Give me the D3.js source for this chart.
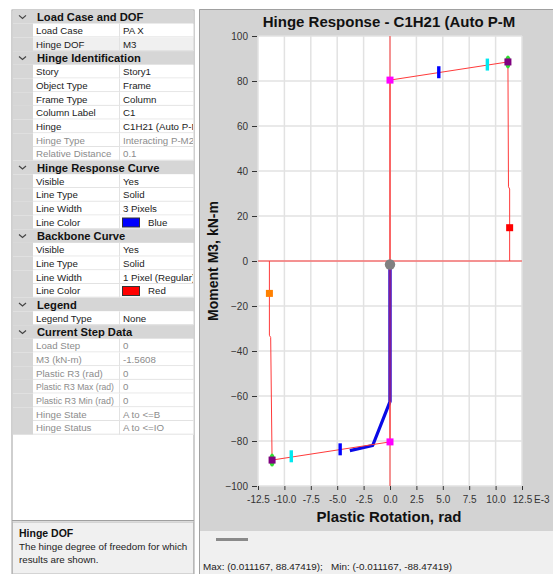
<!DOCTYPE html>
<html>
<head>
<meta charset="utf-8">
<script src="https://cdn.jsdelivr.net/npm/d3@7"></script>
<style>
  html, body { margin: 0; padding: 0; background: #ffffff; }
  svg { display: block; }
</style>
</head>
<body>
<svg id="root" width="553" height="574"></svg>
<script>
// ---------------- DATA ----------------
// Property grid
const gridRowNames = ["Load Case and DOF","Load Case","Hinge DOF","Hinge Identification","Story","Object Type","Frame Type","Column Label","Hinge","Hinge Type","Relative Distance","Hinge Response Curve","Visible","Line Type","Line Width","Line Color","Backbone Curve","Visible","Line Type","Line Width","Line Color","Legend","Legend Type","Current Step Data","Load Step","M3 (kN-m)","Plastic R3 (rad)","Plastic R3 Max (rad)","Plastic R3 Min (rad)","Hinge State","Hinge Status"];
const gridRowValues = [null,"PA X","M3",null,"Story1","Frame","Column","C1","C1H21 (Auto P-M2-M3)","Interacting P-M2-M3","0.1",null,"Yes","Solid","3 Pixels","Blue",null,"Yes","Solid","1 Pixel (Regular)","Red",null,"None",null,"0","-1.5608","0","0","0","A to <=B","A to <=IO"];
const gridRowGreyed = [0,0,0,0,0,0,0,0,0,1,1,0,0,0,0,0,0,0,0,0,0,0,0,0,1,1,1,1,1,1,1];
const gridSwatches = {15: "#0000ff", 20: "#ff0000"};
const descTitle = "Hinge DOF";
const descLines = ["The hinge degree of freedom for which", "results are shown."];

// Chart
const chartTitle = "Hinge Response - C1H21 (Auto P-M";
const xAxisTitle = "Plastic Rotation, rad";
const yAxisTitle = "Moment M3, kN-m";
const xTicks = [-12.5,-10,-7.5,-5,-2.5,0,2.5,5,7.5,10,12.5];
const xTickLabels = ["-12.5","-10.0","-7.5","-5.0","-2.5","0.0","2.5","5.0","7.5","10.0","12.5"];
const xUnitLabel = "E-3";
const yTicks = [-100,-80,-60,-40,-20,0,20,40,60,80,100];

// Backbone curve (rotation E-3 rad, moment kN-m)
const backboneRot = [-11.42,-11.42,-11.30,-11.167,0,0,11.167,11.22,11.33,11.33];
const backboneMom = [0,-33,-34,-88.474,-80.4,80.4,88.474,33,32,0];

// Hinge response curve
const responseRot = [0,0,-1.64,-3.8];
const responseMom = [-1.56,-62.5,-82,-84.3];

// Markers
const pointB_Rot = [0,0];           const pointB_Mom = [80.4,-80.4];
const pointC_Rot = [11.167,-11.167]; const pointC_Mom = [88.474,-88.474];
const ioRot = [4.62,-4.72];          const ioMom = [83.9,-83.7];
const lsRot = [9.22,-9.35];          const lsMom = [87.3,-86.8];
const dRot = [11.33,-11.42];         const dMom = [14.8,-14.4];
const dColors = ["#ff0000","#ff8000"];
const currentRot = [0];              const currentMom = [-1.5608];
const statusText = "Max: (0.011167, 88.47419);   Min: (-0.011167, -88.47419)";

// ---------------- DRAW ----------------
const svg = d3.select("#root");
const sans = "'Liberation Sans', Arial, sans-serif";

// ---- left property grid ----
const gL = 12, gR = 194, gTop = 10, rowH = 13.7, colGut = 33, colVal = 120;
const left = svg.append("g");
left.append("rect").attr("x", gL).attr("y", gTop).attr("width", gR - gL).attr("height", 574 - gTop + 2)
  .attr("fill", "#ffffff").attr("stroke", "#a0a0a0");
svg.append("defs").call(d => {
  d.append("clipPath").attr("id", "clipVal").append("rect").attr("x", colVal).attr("y", 0).attr("width", gR - colVal - 1).attr("height", 574);
});
const rows = left.selectAll("g.row").data(gridRowNames.map((n, i) => ({n, v: gridRowValues[i], gr: gridRowGreyed[i], i})))
  .join("g").attr("class", "row").attr("transform", d => `translate(0,${gTop + d.i * rowH})`);
rows.each(function(d) {
  const g = d3.select(this);
  if (d.v === null) {
    g.append("rect").attr("x", gL + 0.5).attr("y", 0).attr("width", gR - gL - 1).attr("height", rowH).attr("fill", "#d6d6d6");
    g.append("path").attr("d", `M19,${rowH/2 - 1.5} L22.5,${rowH/2 + 1.5} L26,${rowH/2 - 1.5}`).attr("fill", "none").attr("stroke", "#444").attr("stroke-width", 1.2);
    g.append("text").attr("x", 37).attr("y", rowH / 2 + 4).attr("font-family", sans).attr("font-size", 11.2).attr("font-weight", "bold").attr("fill", "#111").text(d.n);
  } else {
    g.append("rect").attr("x", gL + 0.5).attr("y", 0).attr("width", colGut - gL - 0.5).attr("height", rowH).attr("fill", "#d6d6d6");
    g.append("rect").attr("x", colGut).attr("y", 0).attr("width", gR - colGut - 0.5).attr("height", rowH).attr("fill", d.i === 2 ? "#f0f0f0" : "#ffffff");
    g.append("line").attr("x1", colGut).attr("x2", gR).attr("y1", rowH - 0.5).attr("y2", rowH - 0.5).attr("stroke", "#e2e2e2");
    g.append("line").attr("x1", colVal - 0.5).attr("x2", colVal - 0.5).attr("y1", 0).attr("y2", rowH).attr("stroke", "#e2e2e2");
    const fill = d.gr ? "#8c8c8c" : "#222";
    const nt = g.append("text").attr("x", 36).attr("y", rowH / 2 + 3.5).attr("font-family", sans).attr("font-size", 9.7).attr("fill", fill).text(d.n);
    const maxW = 78;
    const w = nt.node().getComputedTextLength();
    if (w > maxW) nt.attr("font-size", 9.7 * maxW / w);
    let vx = 123;
    if (gridSwatches[d.i]) {
      g.append("rect").attr("x", 122.5).attr("y", 2.5).attr("width", 17).attr("height", 9).attr("fill", gridSwatches[d.i]).attr("stroke", "#333");
      vx = 148;
    }
    g.append("text").attr("clip-path", "url(#clipVal)").attr("x", vx).attr("y", rowH / 2 + 3.5).attr("font-family", sans).attr("font-size", 9.7).attr("fill", fill).text(d.v);
  }
});
// description box
const dTop = 522;
left.append("line").attr("x1", gL).attr("x2", gR).attr("y1", dTop - 1.5).attr("y2", dTop - 1.5).attr("stroke", "#a0a0a0");
left.append("rect").attr("x", gL + 0.5).attr("y", dTop).attr("width", gR - gL - 1).attr("height", 574 - dTop).attr("fill", "#f0f0f0").attr("stroke", "#b8b8b8");
left.append("text").attr("x", 19).attr("y", dTop + 14.5).attr("font-family", sans).attr("font-size", 10.5).attr("font-weight", "bold").attr("fill", "#111").text(descTitle);
left.selectAll("text.desc").data(descLines).join("text").attr("class", "desc")
  .attr("x", 19).attr("y", (d, i) => dTop + 28 + i * 13).attr("font-family", sans).attr("font-size", 9.8).attr("fill", "#222").text(d => d);

// ---- chart panel ----
const pL = 199, pTop = 9, pBottom = 531;
svg.append("rect").attr("x", pL).attr("y", pTop).attr("width", 553 - pL + 2).attr("height", pBottom - pTop).attr("fill", "#d3d3d3");
svg.append("rect").attr("x", pL).attr("y", pBottom).attr("width", 553 - pL + 2).attr("height", 574 - pBottom).attr("fill", "#f0f0f0");
svg.append("path").attr("d", `M${pL + 0.5},574 V${pTop + 0.5} H553`).attr("fill", "none").attr("stroke", "#a0a0a0");
svg.append("rect").attr("x", 216).attr("y", 538).attr("width", 32).attr("height", 3).attr("fill", "#8a8a8a");
svg.append("text").attr("x", 203).attr("y", 570).attr("font-family", sans).attr("font-size", 9.9).attr("fill", "#222").style("white-space", "pre").text(statusText);

const x = d3.scaleLinear().domain([-12.5, 12.5]).range([258, 522]);
const y = d3.scaleLinear().domain([-100, 100]).range([486, 36]);

const plot = svg.append("g");
plot.append("rect").attr("x", x(-12.5)).attr("y", y(100)).attr("width", x(12.5) - x(-12.5)).attr("height", y(-100) - y(100)).attr("fill", "#ffffff");
plot.selectAll("line.gx").data(xTicks).join("line").attr("class", "gx")
  .attr("x1", d => x(d)).attr("x2", d => x(d)).attr("y1", y(100)).attr("y2", y(-100)).attr("stroke", "#e2e2e2").attr("stroke-width", 1.5);
plot.selectAll("line.gy").data(yTicks).join("line").attr("class", "gy")
  .attr("y1", d => y(d)).attr("y2", d => y(d)).attr("x1", x(-12.5)).attr("x2", x(12.5)).attr("stroke", "#e2e2e2").attr("stroke-width", 1.5);

// axes
const yAxis = d3.axisLeft(y).tickValues(yTicks).tickSize(5).tickPadding(4).tickFormat(d3.format("d"));
const gy = svg.append("g").attr("transform", `translate(${x(-12.5) - 1},0)`).call(yAxis);
const xAxis = d3.axisBottom(x).tickValues(xTicks).tickSize(4).tickPadding(6).tickFormat((d, i) => xTickLabels[i]);
const gx = svg.append("g").attr("transform", `translate(0,${y(-100)})`).call(xAxis);
[gx, gy].forEach(g => {
  g.select(".domain").remove();
  g.selectAll(".tick line").attr("stroke", "#333");
  g.selectAll(".tick text").attr("font-family", sans).attr("font-size", 10).attr("fill", "#333");
});
gx.append("text").attr("x", x(12.5) + 12).attr("y", 10).attr("dy", "0.71em").attr("text-anchor", "start")
  .attr("font-family", sans).attr("font-size", 10).attr("fill", "#333").text(xUnitLabel);

// titles
svg.append("text").attr("x", 389).attr("y", 27).attr("text-anchor", "middle").attr("font-family", sans).attr("font-size", 15).attr("font-weight", "bold").attr("fill", "#111").text(chartTitle);
svg.append("text").attr("x", 389).attr("y", 522).attr("text-anchor", "middle").attr("font-family", sans).attr("font-size", 15).attr("font-weight", "bold").attr("fill", "#111").text(xAxisTitle);
svg.append("text").attr("transform", `translate(218,261) rotate(-90)`).attr("text-anchor", "middle").attr("font-family", sans).attr("font-size", 14).attr("font-weight", "bold").attr("fill", "#111").text(yAxisTitle);

// curves
const line = d3.line().x(d => x(d[0])).y(d => y(d[1]));
svg.select("defs").append("clipPath").attr("id", "plotClip").append("rect")
  .attr("x", x(-12.5)).attr("y", y(100)).attr("width", x(12.5) - x(-12.5)).attr("height", y(-100) - y(100));
const curves = svg.append("g").attr("clip-path", "url(#plotClip)");
curves.append("path").datum(responseRot.map((r, i) => [r, responseMom[i]]))
  .attr("d", line).attr("fill", "none").attr("stroke", "#0a0ae6").attr("stroke-width", 3.2).attr("stroke-linejoin", "round");
// zero reference lines (red)
curves.append("line").attr("x1", x(-12.5)).attr("x2", x(12.5)).attr("y1", y(0)).attr("y2", y(0)).attr("stroke", "#ff3a3a").attr("stroke-width", 1);
curves.append("line").attr("x1", x(0)).attr("x2", x(0)).attr("y1", y(100)).attr("y2", y(-100)).attr("stroke", "#ff3a3a").attr("stroke-width", 1);
curves.append("path").datum(backboneRot.map((r, i) => [r, backboneMom[i]]))
  .attr("d", line).attr("fill", "none").attr("stroke", "#ff3a3a").attr("stroke-width", 1);
// purple tint of overlapped vertical response segment
curves.append("path").datum(responseRot.slice(0, 2).map((r, i) => [r, responseMom[i]]))
  .attr("d", line).attr("fill", "none").attr("stroke", "#6a18a8").attr("stroke-width", 3).attr("opacity", 0.75);

// markers
const mk = svg.append("g");
mk.selectAll("ellipse.cp").data(pointC_Rot.map((r, i) => [r, pointC_Mom[i]])).join("ellipse").attr("class", "cp")
  .attr("cx", d => x(d[0])).attr("cy", d => y(d[1])).attr("rx", 2.8).attr("ry", 6.5).attr("fill", "#33dd33");
mk.selectAll("rect.io").data(ioRot.map((r, i) => [r, ioMom[i]])).join("rect").attr("class", "io")
  .attr("x", d => x(d[0]) - 1.7).attr("y", d => y(d[1]) - 6).attr("width", 3.4).attr("height", 12).attr("fill", "#0000ff");
mk.selectAll("rect.ls").data(lsRot.map((r, i) => [r, lsMom[i]])).join("rect").attr("class", "ls")
  .attr("x", d => x(d[0]) - 1.7).attr("y", d => y(d[1]) - 6).attr("width", 3.4).attr("height", 12).attr("fill", "#00e8f0");
mk.selectAll("rect.b").data(pointB_Rot.map((r, i) => [r, pointB_Mom[i]])).join("rect").attr("class", "b")
  .attr("x", d => x(d[0]) - 3.5).attr("y", d => y(d[1]) - 3.5).attr("width", 7).attr("height", 7).attr("fill", "#ff00ff");
mk.selectAll("rect.c").data(pointC_Rot.map((r, i) => [r, pointC_Mom[i]])).join("rect").attr("class", "c")
  .attr("x", d => x(d[0]) - 3.5).attr("y", d => y(d[1]) - 3.5).attr("width", 7).attr("height", 7).attr("fill", "#800080");
mk.selectAll("rect.d").data(dRot.map((r, i) => [r, dMom[i], dColors[i]])).join("rect").attr("class", "d")
  .attr("x", d => x(d[0]) - 3.5).attr("y", d => y(d[1]) - 3.5).attr("width", 7).attr("height", 7).attr("fill", d => d[2]);
mk.selectAll("path.cur").data(currentRot.map((r, i) => [r, currentMom[i]])).join("path").attr("class", "cur")
  .attr("d", d3.symbol(d3.symbolCircle, 85)).attr("transform", d => `translate(${x(d[0])},${y(d[1])})`).attr("fill", "#808080");
</script>
</body>
</html>
